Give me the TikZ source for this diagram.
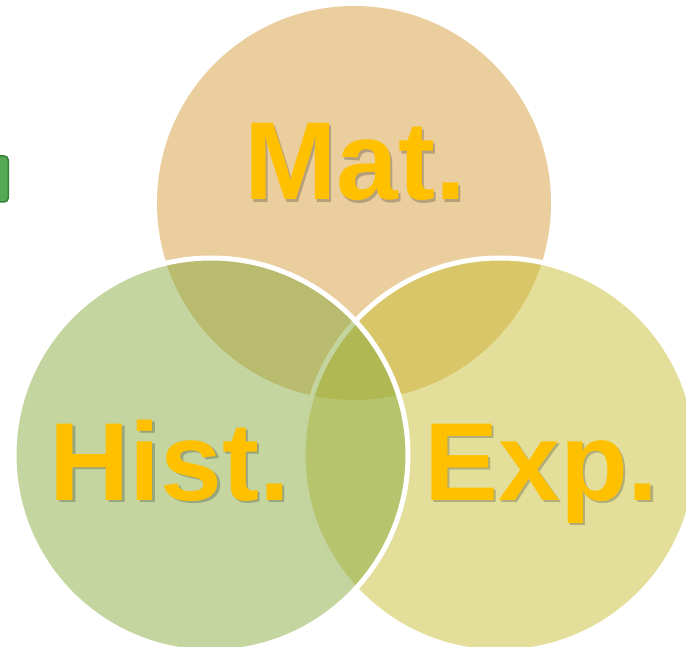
\documentclass[tikz,border=0pt]{standalone}
\usepackage{fontspec}
\setmainfont{Liberation Sans}
\usepackage{tikz}
\usetikzlibrary{positioning}

\definecolor{matcol}{RGB}{213,157,61}
\definecolor{histcol}{RGB}{137,171,65}
\definecolor{expcol}{RGB}{199,191,53}
\definecolor{gold}{RGB}{255,192,0}
\definecolor{tabgreen}{RGB}{84,170,84}
\definecolor{tabedge}{RGB}{58,128,58}

\begin{document}
\begin{tikzpicture}[
    x=1pt, y=-1pt,
    set/.style={circle, minimum size=394pt, inner sep=0pt, fill opacity=0.5},
    rim/.style={draw=white, line width=5pt},
    word/.style={anchor=base, inner sep=0pt, font=\fontsize{111}{111}\selectfont\bfseries, text=gold},
    wordshadow/.style={word, text=black, text opacity=0.22}
]
\useasboundingbox (0,0) rectangle (686,647);
\clip (0,0) rectangle (686,647);

% Tab cut off at the left edge
\node[draw=tabedge, line width=1.5pt, fill=tabgreen, rounded corners=4pt,
    minimum width=40pt, minimum height=46pt, anchor=east] (tab) at (9,179) {};

% Venn sets
\node[set, fill=matcol] (mat) at (354,203) {};
\node[set, fill=expcol, rim] (exp) at (500,455) {};
\node[set, fill=histcol, rim] (hist) at (211,455) {};

% Labels (with drop shadow)
\node[wordshadow] (mat-s) at (357.5,202.5) {Mat.};
\node[word] (mat-t) at (355,200) {Mat.};

\node[wordshadow] (hist-s) at (172.5,502.5) {Hist.};
\node[word] (hist-t) at (170,500) {Hist.};

\node[wordshadow] (exp-s) at (544,502.5) {Exp.};
\node[word] (exp-t) at (541.5,500) {Exp.};
\end{tikzpicture}
\end{document}
